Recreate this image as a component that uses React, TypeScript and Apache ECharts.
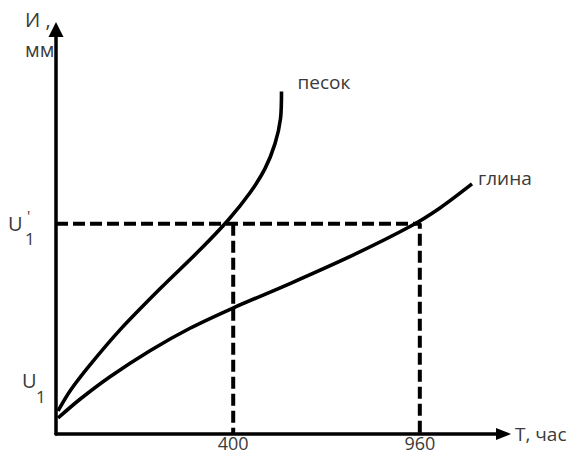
import React, { useEffect, useRef } from 'react';
import * as echarts from 'echarts';

// schematic coordinates (0..100 on each axis)
const sandT = [0.45, 3.13, 7.6, 14.3, 23.24, 32.18, 38.44, 43.35, 46.7, 48.94, 50.17, 50.39];
const sandU = [5.69, 10.64, 17.08, 25.74, 35.89, 45.54, 52.85, 59.65, 65.59, 71.78, 77.97, 84.65];
const clayT = [0.45, 5.36, 12.07, 21.0, 29.94, 39.55, 52.29, 66.37, 79.11, 85.81, 92.96];
const clayU = [3.96, 8.59, 14.16, 20.59, 26.14, 31.14, 37.2, 44.23, 51.29, 55.89, 61.83];
const seriesNames = ['песок', 'глина'];
const xTickPos = [39.6, 81.3];
const xTickLabels = ['400', '960'];
const uLevels = [13, 52]; // U1, U1'
const xAxisName = 'T, час';
const yAxisName = ['И ,', 'мм'];

export default function App() {
  const ref = useRef<HTMLDivElement>(null);
  useEffect(() => {
    const el = ref.current!;
    const chart = echarts.init(el, undefined, { renderer: 'svg' });
    const font = "'Open Sans', sans-serif";
    const txt = '#3a3a3a';
    const pairs = (xs: number[], ys: number[]) => xs.map((x, i) => [x, ys[i]]);
    const dash = { color: '#000', width: 4, type: [12, 5] as any };
    chart.setOption({
      animation: false,
      grid: { left: 56, right: 68.5, top: 29.5, bottom: 20, containLabel: false, outerBoundsMode: 'none' },
      xAxis: {
        type: 'value', min: 0, max: 100,
        axisLine: { show: true, symbol: ['none', 'triangle'], symbolSize: [12, 15], lineStyle: { color: '#000', width: 3.5 } },
        axisTick: { show: false },
        splitLine: { show: false },
        axisLabel: {
          customValues: xTickPos,
          formatter: (v: number) => {
            const i = xTickPos.findIndex((p) => Math.abs(p - v) < 1e-6);
            return i >= 0 ? xTickLabels[i] : '';
          },
          fontSize: 18, fontFamily: font, color: txt, margin: 0,
        },
        name: xAxisName, nameLocation: 'end', nameGap: 11.5,
        nameTextStyle: { fontSize: 19, fontFamily: font, color: txt, align: 'left', verticalAlign: 'middle' },
      },
      yAxis: {
        type: 'value', min: 0, max: 100,
        axisLine: { show: true, symbol: ['none', 'triangle'], symbolSize: [15, 15], lineStyle: { color: '#000', width: 3.5 } },
        axisTick: { show: false },
        splitLine: { show: false },
        axisLabel: { show: false },
      },
      series: [
        { type: 'line', name: seriesNames[0], data: pairs(sandT, sandU), smooth: 0.3, symbol: 'none', lineStyle: { color: '#000', width: 3.6 }, z: 3 },
        { type: 'line', name: seriesNames[1], data: pairs(clayT, clayU), smooth: 0.3, symbol: 'none', lineStyle: { color: '#000', width: 3.6 }, z: 3 },
        { type: 'line', data: [[0, uLevels[1]], [xTickPos[1], uLevels[1]], [xTickPos[1], 0]], symbol: 'none', lineStyle: dash, z: 2 },
        { type: 'line', data: [[xTickPos[0], uLevels[1]], [xTickPos[0], 0]], symbol: 'none', lineStyle: dash, z: 2 },
      ],
    });

    const px = (x: number, y: number) => chart.convertToPixel({ gridIndex: 0 }, [x, y]) as number[];
    const t = (text: string, x: number, y: number, size: number) => ({
      type: 'text', x, y, silent: true,
      style: { text, fontSize: size, fontFamily: font, fill: txt, align: 'left', verticalAlign: 'middle', textAlign: 'left', textVerticalAlign: 'middle' },
    });
    const top = px(0, 100);
    const u1 = px(0, uLevels[0]);
    const u1p = px(0, uLevels[1]);
    const sandEnd = px(sandT[sandT.length - 1], sandU[sandU.length - 1]);
    const clayEnd = px(clayT[clayT.length - 1], clayU[clayU.length - 1]);
    chart.setOption({
      graphic: [
        t(yAxisName[0], top[0] - 31, top[1] - 10, 20),
        t(yAxisName[1], top[0] - 31, top[1] + 19.5, 20),
        t('U', u1[0] - 34, u1[1] - 1, 20),
        t('1', u1[0] - 20, u1[1] + 15, 17),
        t('U', u1p[0] - 48, u1p[1], 20),
        t("'", u1p[0] - 29, u1p[1] - 8.5, 15),
        t('1', u1p[0] - 31, u1p[1] + 14.5, 17),
        t(seriesNames[0], sandEnd[0] + 16, sandEnd[1] - 9.3, 19),
        t(seriesNames[1], clayEnd[0] + 6, clayEnd[1] - 6.3, 19),
      ],
    });
    return () => chart.dispose();
  }, []);
  return <div ref={ref} style={{ position: 'fixed', left: 0, top: 0, width: 572, height: 454, background: '#fff' }} />;
}
